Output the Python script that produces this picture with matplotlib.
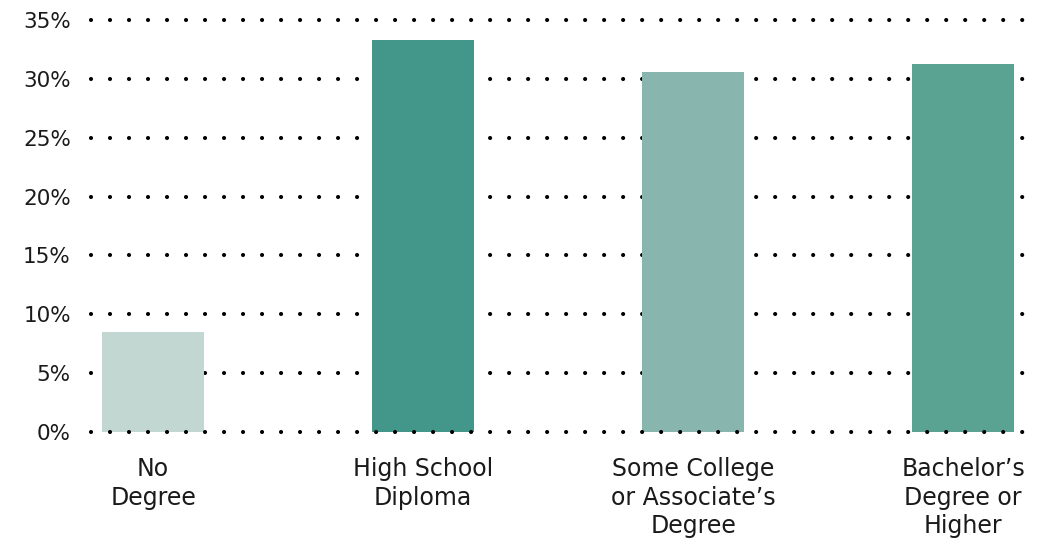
import matplotlib
matplotlib.use("Agg")
import matplotlib.pyplot as plt
import numpy as np

categories = ["No\nDegree", "High School\nDiploma", "Some College\nor Associate\u2019s\nDegree", "Bachelor\u2019s\nDegree or\nHigher"]
values = [8.5, 33.3, 30.6, 31.3]
colors = ["#c2d7d2", "#42968a", "#88b5ad", "#5aa292"]
yticks = [0, 5, 10, 15, 20, 25, 30, 35]
ytick_labels = ["0%", "5%", "10%", "15%", "20%", "25%", "30%", "35%"]

plt.rcParams['font.family'] = ['DejaVu Sans']

fig = plt.figure(figsize=(10.4, 5.42), dpi=100)
W, H = 1040, 542
left, right = 91, 1040
y0, y35 = 432, 20
ax = fig.add_axes([left / W, 1 - y0 / H, (right - left) / W, (y0 - y35) / H])

x = np.arange(len(categories))
ax.bar(x, values, width=0.378, color=colors, zorder=2)

ax.set_ylim(0, 35)
ax.set_xlim(-0.23, 3.285)

lw = 3.0
gap = 19 / (lw * 100 / 72)
for t in yticks:
    ax.axhline(t, color="black", linewidth=lw, linestyle=(0, (0.001, gap)),
               dash_capstyle="round", zorder=3 if t == 0 else 1, clip_on=False)

ax.set_yticks(yticks)
ax.set_yticklabels(ytick_labels, fontsize=15.5, color="#1a1a1a")
ax.set_xticks(x)
ax.set_xticklabels(categories, fontsize=17, color="#1a1a1a", linespacing=1.25, va="top")
ax.tick_params(axis="y", length=0, pad=14.5)
ax.tick_params(axis="x", length=0, pad=18)
for s in ax.spines.values():
    s.set_visible(False)

fig.savefig("out.png", dpi=100)
